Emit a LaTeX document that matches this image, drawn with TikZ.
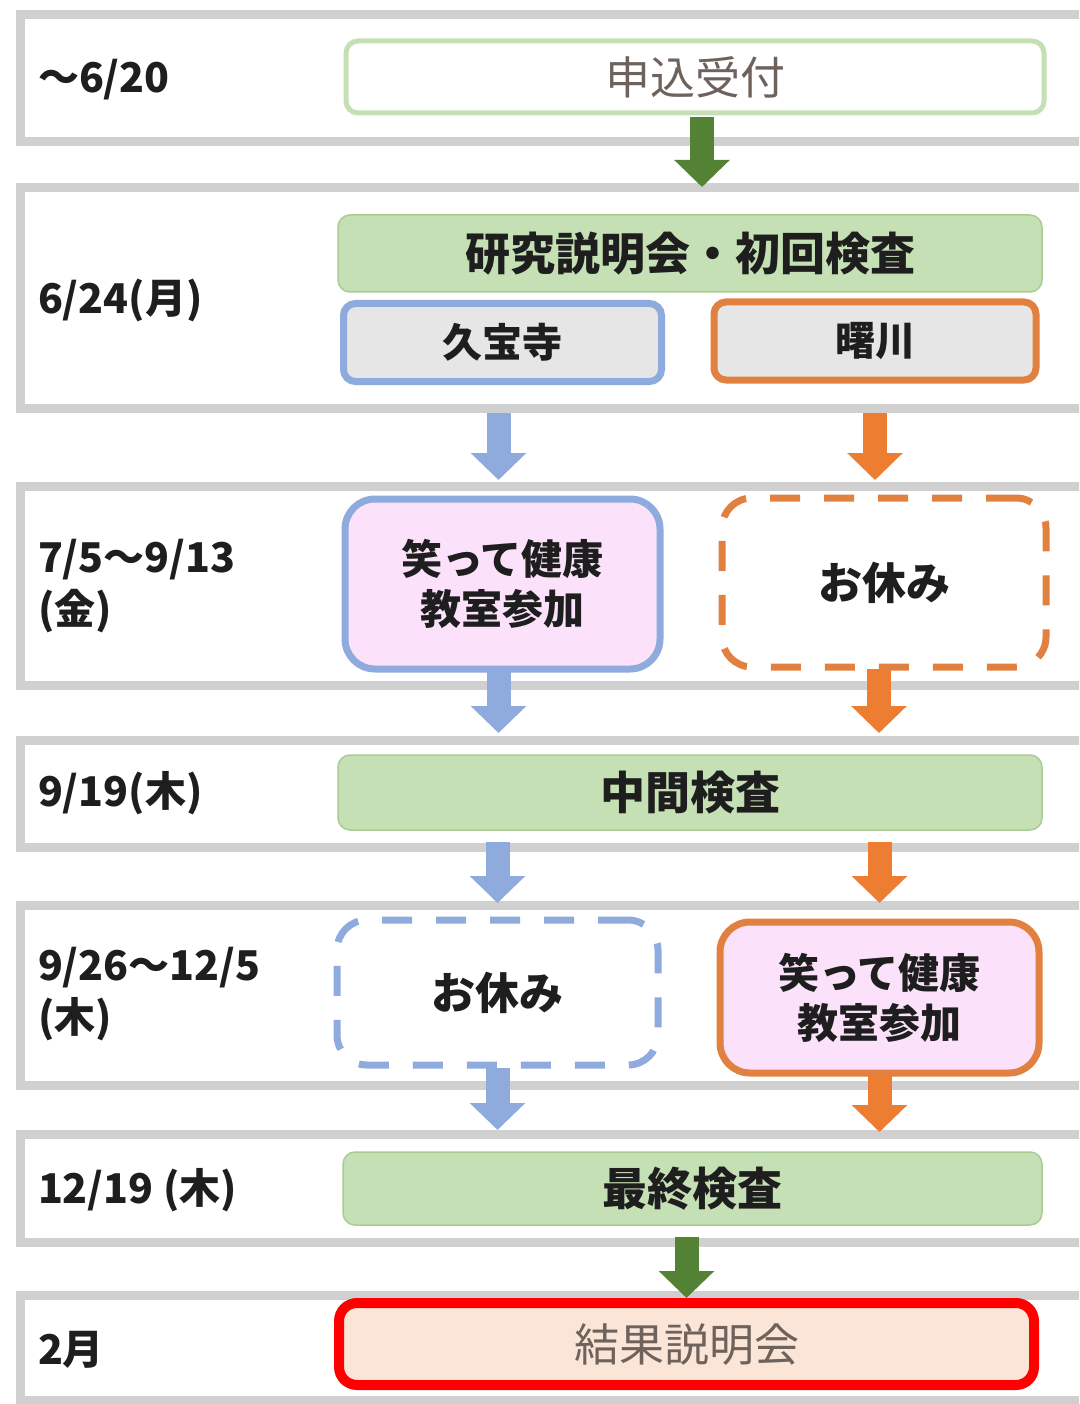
\documentclass[tikz,border=0pt]{standalone}
\usepackage{fontspec}
\usetikzlibrary{arrows.meta}
\newfontfamily\jp{Noto Sans CJK JP}
\definecolor{bandgray}{HTML}{D0D0D0}
\definecolor{gfill}{HTML}{C5E0B4}
\definecolor{gline}{HTML}{A9CC94}
\definecolor{bline}{HTML}{8FAADC}
\definecolor{oline}{HTML}{E2803F}
\definecolor{oarrow}{HTML}{ED7D31}
\definecolor{garrow}{HTML}{548235}
\definecolor{grayfill}{HTML}{E7E6E6}
\definecolor{pinkfill}{HTML}{FBE2FA}
\definecolor{peach}{HTML}{FBE5D6}
\definecolor{txt}{HTML}{1E1E1E}
\definecolor{softtxt}{HTML}{6E625C}
\begin{document}
\begin{tikzpicture}[x=1pt,y=-1pt,
  every node/.style={outer sep=0pt, inner sep=0pt},
  band/.style={draw=bandgray, line width=9pt, anchor=north west, minimum width=1120pt},
  lbl/.style={anchor=west, font=\jp\bfseries\fontsize{41}{52}\selectfont, text=txt, align=left},
  greenbox/.style={draw=gline, line width=1.5pt, fill=gfill, rounded corners=12pt,
     font=\jp\bfseries\fontsize{45}{50}\selectfont, text=txt},
  sitebox/.style={line width=7pt, fill=grayfill, rounded corners=12pt,
     font=\jp\bfseries\fontsize{40}{48}\selectfont, text=txt},
  classbox/.style={line width=7pt, fill=pinkfill, rounded corners=30pt, align=center,
     font=\jp\bfseries\fontsize{41}{50}\selectfont, text=txt},
  restbox/.style={line width=7pt, fill=white, rounded corners=30pt, dash pattern=on 30pt off 24pt,
     font=\jp\bfseries\fontsize{44}{50}\selectfont, text=txt},
  blk/.style={line width=24pt, -{Triangle[width=54pt,length=27pt]}},
  barr/.style={blk, draw=bline},
  oarr/.style={blk, draw=oarrow},
  garr/.style={blk, draw=garrow},
]
\useasboundingbox (0,0) rectangle (1079,1404);
\clip (0,0) rectangle (1079,1404);
\fill[white] (0,0) rectangle (1079,1404);

% row bands
\node[band, minimum height=127pt] (r1) at (20,15) {};
\node[band, minimum height=220pt] (r2) at (20,188) {};
\node[band, minimum height=199pt] (r3) at (20,486) {};
\node[band, minimum height=107pt] (r4) at (20,740) {};
\node[band, minimum height=180pt] (r5) at (20,905) {};
\node[band, minimum height=108pt] (r6) at (20,1134) {};
\node[band, minimum height=105pt] (r7) at (20,1295) {};

% date labels
\node[lbl] (l1) at (38,80) {～6/20};
\node[lbl] (l2) at (38,300) {6/24(月)};
\node[lbl] (l3) at (38,586) {7/5～9/13\\(金)};
\node[lbl] (l4) at (38,793) {9/19(木)};
\node[lbl] (l5) at (38,994) {9/26～12/5\\(木)};
\node[lbl] (l6) at (38,1190) {12/19 (木)};
\node[lbl] (l7) at (38,1350) {2月};

% boxes
\node[draw=gfill, line width=5pt, fill=white, rounded corners=12pt,
      minimum width=698pt, minimum height=72pt,
      font=\jp\fontsize{45}{50}\selectfont, text=softtxt] (n1) at (695,77) {申込受付};
\node[greenbox, minimum width=704pt, minimum height=77pt] (n2) at (690,253.5) {研究説明会・初回検査};
\node[sitebox, draw=bline, minimum width=318pt, minimum height=78pt] (n3) at (502.5,342.5) {久宝寺};
\node[sitebox, draw=oline, minimum width=322pt, minimum height=78pt] (n4) at (875,341) {曙川};
\node[classbox, draw=bline, minimum width=315pt, minimum height=170pt] (n5) at (502.5,584) {笑って健康\\教室参加};
\node[restbox, draw=oline, minimum width=324pt, minimum height=169pt] (n6) at (884,582.5) {お休み};
\node[greenbox, minimum width=704pt, minimum height=75pt] (n7) at (690,792.5) {中間検査};
\node[restbox, draw=bline, minimum width=321pt, minimum height=145pt] (n8) at (497.5,992.5) {お休み};
\node[classbox, draw=oline, minimum width=319pt, minimum height=151pt] (n9) at (879.5,997.5) {笑って健康\\教室参加};
\node[greenbox, minimum width=699pt, minimum height=73pt] (n10) at (692.5,1188.5) {最終検査};

% arrows
\draw[garr] ([xshift=7pt,yshift=-4pt]n1.south) -- ([xshift=7pt,yshift=1pt]n1.south |- r2.north);
\draw[barr] ([xshift=-4pt,yshift=-5pt]r2.south -| n3) -- ([xshift=-4pt,yshift=6pt]r3.north -| n3);
\draw[oarr] ([yshift=-5pt]r2.south -| n4) -- ([yshift=6pt]r3.north -| n4);
\draw[barr] ([xshift=-4pt,yshift=-2pt]n5.south) -- ([xshift=-4pt,yshift=7pt]n5.south |- r4.north);
\draw[oarr] ([xshift=-5pt,yshift=-2pt]n6.south) -- ([xshift=-5pt,yshift=7pt]n6.south |- r4.north);
\draw[barr] ([yshift=5pt]r4.south -| n8) -- ([yshift=2pt]r5.north -| n8);
\draw[oarr] ([yshift=5pt]r4.south -| n9) -- ([yshift=2pt]r5.north -| n9);
\draw[barr] ([yshift=-3pt]n8.south) -- ([yshift=4pt]n8.south |- r6.north);
\draw[oarr] ([yshift=-3pt]n9.south) -- ([yshift=2pt]n9.south |- r6.north);

\node[draw=red, line width=10pt, fill=peach, rounded corners=18pt,
      minimum width=695pt, minimum height=82pt,
      font=\jp\fontsize{45}{50}\selectfont, text=softtxt] (n11) at (686.5,1344) {結果説明会};
\draw[garr] ([yshift=5pt]r6.south -| n11) -- ([yshift=5pt]n11.north);
\end{tikzpicture}
\end{document}
